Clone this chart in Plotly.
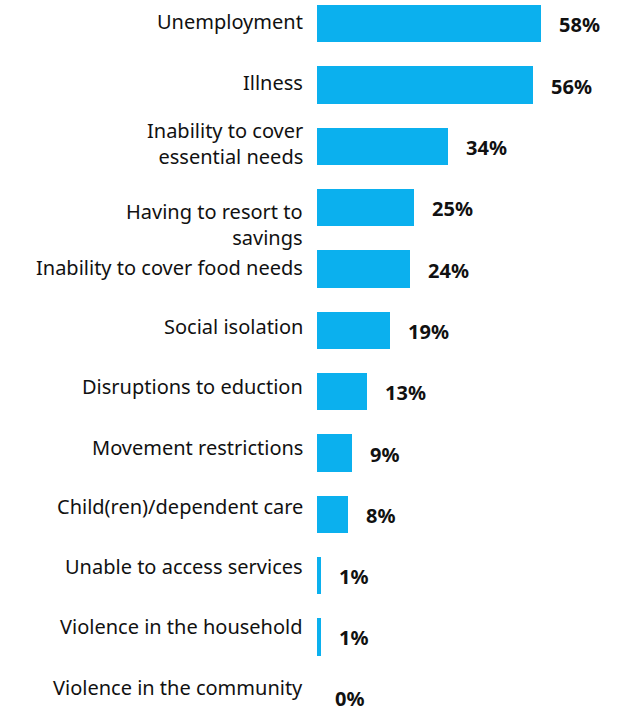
import plotly.graph_objects as go

# Reported impacts, listed top to bottom
categories = [
    "Unemployment",
    "Illness",
    "Inability to cover<br>essential needs",
    "Having to resort to<br>savings",
    "Inability to cover food needs",
    "Social isolation",
    "Disruptions to eduction",
    "Movement restrictions",
    "Child(ren)/dependent care",
    "Unable to access services",
    "Violence in the household",
    "Violence in the community",
]
values = [58, 56, 34, 25, 24, 19, 13, 9, 8, 1, 1, 0]
value_labels = ["58%", "56%", "34%", "25%", "24%", "19%", "13%", "9%", "8%", "1%", "1%", "0%"]

BAR_COLOR = "#0BB0EE"
TEXT_COLOR = "#111111"
FONT = "Noto Sans"

rows = list(range(len(categories)))

fig = go.Figure(
    go.Bar(
        x=values,
        y=rows,
        orientation="h",
        marker=dict(color=BAR_COLOR, line=dict(width=0)),
        width=0.61,
        hoverinfo="skip",
    )
)

# vertical nudges (px) for the category text boxes
label_nudge = [2.5, 3, 3, -17, 2, 4, 5, 6, 8, 9, 10, 11]
value_nudge = [-1] * 11 + [0]

annotations = []
for i, (cat, val, lab) in enumerate(zip(categories, values, value_labels)):
    annotations.append(dict(
        x=0, xref="paper", y=i, yref="y",
        text=cat, showarrow=False,
        xanchor="right", yanchor="middle", align="right",
        xshift=-12, yshift=label_nudge[i],
        font=dict(family=FONT, size=20, color=TEXT_COLOR),
    ))
    annotations.append(dict(
        x=val, xref="x", y=i, yref="y",
        text=f"<b>{lab}</b>", showarrow=False,
        xanchor="left", yanchor="middle",
        xshift=16, yshift=value_nudge[i],
        font=dict(family=FONT, size=20, color=TEXT_COLOR),
    ))

fig.update_layout(
    width=620, height=707,
    margin=dict(l=317, r=0, t=0, b=0),
    paper_bgcolor="white", plot_bgcolor="white",
    showlegend=False,
    xaxis=dict(range=[0, 78.46], visible=False, fixedrange=True),
    yaxis=dict(range=[11.142, -0.388], visible=False, fixedrange=True),
    annotations=annotations,
    bargap=0,
)

fig.write_html("out.html", config={"displayModeBar": False})
